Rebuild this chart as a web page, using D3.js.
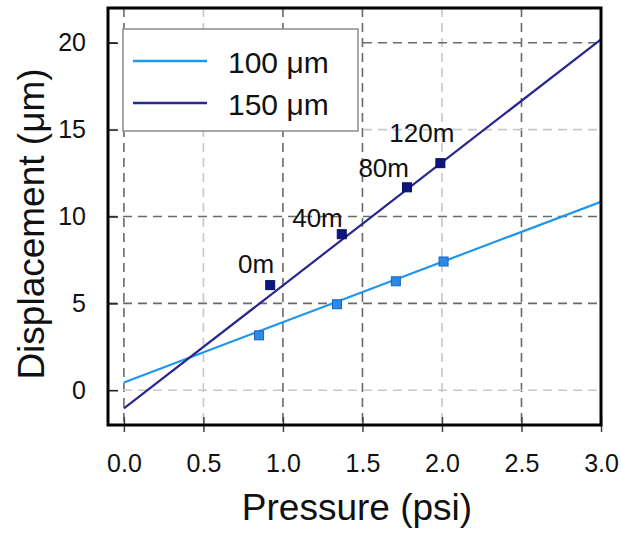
<!DOCTYPE html>
<html>
<head>
<meta charset="utf-8">
<script src="https://cdn.jsdelivr.net/npm/d3@7/dist/d3.min.js"></script>
<style>
  html, body { margin: 0; padding: 0; background: #fff; }
  svg { display: block; font-family: "Liberation Sans", Arial, sans-serif; }
</style>
</head>
<body>
<svg id="chart" width="621" height="535"></svg>
<script>
// ---- data ----
const xTicks = [0.0, 0.5, 1.0, 1.5, 2.0, 2.5, 3.0];
const yTicks = [0, 5, 10, 15, 20];
const seriesNames = ["100 \u03BCm", "150 \u03BCm"];
const x100 = [0.85, 1.34, 1.71, 2.01];
const y100 = [3.16, 4.95, 6.27, 7.41];
const x150 = [0.92, 1.37, 1.78, 1.99];
const y150 = [6.05, 8.98, 11.68, 13.07];
const fitX = [0, 3];
const fit100 = [0.45, 10.85];
const fit150 = [-1.05, 20.2];
const pointLabels = ["0m", "40m", "80m", "120m"];

// ---- styling (not data) ----
const labelDx = [4, 1, 2, 14];
const labelDy = [-12, -7, -10, -21];
const xGridDark = [true, false, true, true, false, true, false];
const yGridDark = [false, true, true, false, true];
const color100 = "#1f96ee";
const color150 = "#27278f";

const svg = d3.select("#chart");
const L = 108, R = 601, T = 8, B = 425;
const x = d3.scaleLinear().domain([-0.1, 3.0]).range([L, R]);
const y = d3.scaleLinear().domain([-2, 22]).range([B, T]);

// grid
const grid = svg.append("g");
xTicks.forEach((t, i) => {
  if (t >= 3.0) return;
  grid.append("line")
    .attr("x1", x(t)).attr("x2", x(t)).attr("y1", T).attr("y2", B)
    .attr("stroke", xGridDark[i] ? "#6a6a6a" : "#c8c8c8")
    .attr("stroke-width", 1.6)
    .attr("stroke-dasharray", "9,6");
});
yTicks.forEach((t, i) => {
  grid.append("line")
    .attr("x1", L).attr("x2", R).attr("y1", y(t)).attr("y2", y(t))
    .attr("stroke", yGridDark[i] ? "#6a6a6a" : "#c8c8c8")
    .attr("stroke-width", 1.6)
    .attr("stroke-dasharray", "9,6");
});

// axes (ticks + labels)
const xAxis = d3.axisBottom(x).tickValues(xTicks).tickFormat(d3.format(".1f"))
  .tickSizeInner(7).tickSizeOuter(0).tickPadding(22);
const gx = svg.append("g").attr("transform", `translate(0,${B})`).call(xAxis);
gx.select(".domain").remove();
gx.selectAll(".tick line").attr("stroke", "#444").attr("stroke-width", 1.5).attr("y1", -8);
gx.selectAll(".tick text").attr("font-size", 25).attr("fill", "#111")
  .attr("font-family", "Liberation Sans, Arial, sans-serif");

const yAxis = d3.axisLeft(y).tickValues(yTicks).tickFormat(d3.format("d"))
  .tickSizeInner(5).tickSizeOuter(0).tickPadding(17);
const gy = svg.append("g").attr("transform", `translate(${L},0)`).call(yAxis);
gy.select(".domain").remove();
gy.selectAll(".tick line").attr("stroke", "#222").attr("stroke-width", 1.5).attr("x2", 10);
gy.selectAll(".tick text").attr("font-size", 25).attr("fill", "#111")
  .attr("font-family", "Liberation Sans, Arial, sans-serif");

// fit lines
const clipId = "plotclip";
svg.append("clipPath").attr("id", clipId).append("rect")
  .attr("x", L).attr("y", T).attr("width", R - L).attr("height", B - T);
const lineGen = d3.line().x(d => x(d[0])).y(d => y(d[1]));
svg.append("path").datum(d3.zip(fitX, fit100)).attr("d", lineGen)
  .attr("fill", "none").attr("stroke", color100).attr("stroke-width", 2.2)
  .attr("clip-path", `url(#${clipId})`);
svg.append("path").datum(d3.zip(fitX, fit150)).attr("d", lineGen)
  .attr("fill", "none").attr("stroke", color150).attr("stroke-width", 2.2)
  .attr("clip-path", `url(#${clipId})`);

// markers
const ms = 9;
svg.append("g").selectAll("rect").data(d3.zip(x100, y100)).join("rect")
  .attr("x", d => x(d[0]) - ms / 2).attr("y", d => y(d[1]) - ms / 2)
  .attr("width", ms).attr("height", ms)
  .attr("fill", "#2a8ae6").attr("stroke", "#1565c0").attr("stroke-width", 1);
svg.append("g").selectAll("rect").data(d3.zip(x150, y150)).join("rect")
  .attr("x", d => x(d[0]) - ms / 2).attr("y", d => y(d[1]) - ms / 2)
  .attr("width", ms).attr("height", ms)
  .attr("fill", "#0d1580").attr("stroke", "#08105a").attr("stroke-width", 1);

// point labels
svg.append("g").selectAll("text").data(pointLabels).join("text")
  .attr("x", (d, i) => x(x150[i]) + labelDx[i])
  .attr("y", (d, i) => y(y150[i]) + labelDy[i])
  .attr("text-anchor", "end")
  .attr("font-size", 26).attr("fill", "#111")
  .text(d => d);

// frame
svg.append("rect").attr("x", L).attr("y", T).attr("width", R - L).attr("height", B - T)
  .attr("fill", "none").attr("stroke", "#000").attr("stroke-width", 3);

// legend
const lg = svg.append("g");
lg.append("rect").attr("x", 123).attr("y", 29).attr("width", 235).attr("height", 102)
  .attr("fill", "#fff").attr("stroke", "#8a8a8a").attr("stroke-width", 1.5);
const legColors = [color100, color150];
seriesNames.forEach((name, i) => {
  const ly = 61 + i * 42;
  lg.append("line").attr("x1", 133).attr("x2", 207).attr("y1", ly).attr("y2", ly)
    .attr("stroke", legColors[i]).attr("stroke-width", 2.4);
  lg.append("text").attr("x", 228).attr("y", ly + 12)
    .attr("font-size", 30).attr("fill", "#111").text(name);
});

// axis titles
svg.append("text").attr("x", 357).attr("y", 520).attr("text-anchor", "middle")
  .attr("font-size", 37).attr("fill", "#111").text("Pressure (psi)");
svg.append("text").attr("transform", "translate(44,224) rotate(-90)")
  .attr("text-anchor", "middle").attr("font-size", 37).attr("fill", "#111")
  .text("Displacement (\u03BCm)");
</script>
</body>
</html>
